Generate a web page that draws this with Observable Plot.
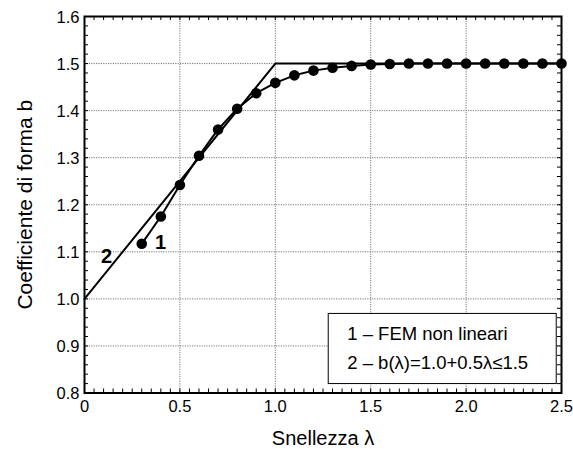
<!DOCTYPE html>
<html>
<head>
<meta charset="utf-8">
<script src="https://cdn.jsdelivr.net/npm/d3@7"></script>
<script src="https://cdn.jsdelivr.net/npm/@observablehq/plot@0.6"></script>
<style>
  html, body { margin: 0; padding: 0; background: #fff; }
  svg { display: block; }
</style>
</head>
<body>
<div id="chart"></div>
<script>
// Series 1: FEM non lineari
const femLambda = [0.3, 0.4, 0.5, 0.6, 0.7, 0.8, 0.9, 1.0, 1.1, 1.2, 1.3, 1.4, 1.5, 1.6, 1.7, 1.8, 1.9, 2.0, 2.1, 2.2, 2.3, 2.4, 2.5];
const femB = [1.117, 1.175, 1.242, 1.304, 1.360, 1.404, 1.437, 1.459, 1.475, 1.485, 1.491, 1.495, 1.498, 1.499, 1.5, 1.5, 1.5, 1.5, 1.5, 1.5, 1.5, 1.5, 1.5];
// Series 2: b(λ)=1.0+0.5λ≤1.5
const codeLambda = [0, 1.0, 2.5];
const codeB = [1.0, 1.5, 1.5];

const xTicks = [0, 0.5, 1.0, 1.5, 2.0, 2.5];
const yTicks = [0.8, 0.9, 1.0, 1.1, 1.2, 1.3, 1.4, 1.5, 1.6];
const xMinor = d3.range(0, 2.5001, 0.05).map(v => +v.toFixed(2));
const yMinor = d3.range(0.8, 1.6001, 0.02).map(v => +v.toFixed(2));

const legendLines = ["1 – FEM non lineari", "2 – b(λ)=1.0+0.5λ≤1.5"];
const legendY = [0.925, 0.8645];
const legendX = [1.377];
const legendBox = [{x1: 1.28, x2: 2.475, y1: 0.819, y2: 0.968}];
const curveLabels = [{t: "1", x: 0.398, y: 1.119}, {t: "2", x: 0.116, y: 1.090}];

const fem = femLambda.map((x, i) => ({x, y: femB[i]}));
const code = codeLambda.map((x, i) => ({x, y: codeB[i]}));

const W = 573, H = 449;
const mL = 84, mT = 16, mR = 12, mB = 56.5;
const pw = W - mL - mR, ph = H - mT - mB;
const tickLen = 4;

const chart = Plot.plot({
  width: W,
  height: H,
  marginLeft: mL,
  marginTop: mT,
  marginRight: mR,
  marginBottom: mB,
  style: {fontFamily: "Arial, 'Liberation Sans', sans-serif", background: "#fff", color: "#000", fontSize: "16px"},
  x: {domain: [0, 2.5], axis: null},
  y: {domain: [0.8, 1.6], axis: null},
  marks: [
    // grid
    Plot.ruleX(xTicks.slice(1, -1), {stroke: "#777", strokeWidth: 1, strokeDasharray: "1.2,1.2"}),
    Plot.ruleY(yTicks.slice(1, -1), {stroke: "#777", strokeWidth: 1, strokeDasharray: "1.2,1.2"}),
    // minor ticks (inward, all four sides)
    Plot.tickX(xMinor, {x: d => d, insetTop: ph - tickLen, stroke: "#000", strokeWidth: 1}),
    Plot.tickX(xMinor, {x: d => d, insetBottom: ph - tickLen, stroke: "#000", strokeWidth: 1}),
    Plot.tickY(yMinor, {y: d => d, insetRight: pw - tickLen, stroke: "#000", strokeWidth: 1}),
    Plot.tickY(yMinor, {y: d => d, insetLeft: pw - tickLen, stroke: "#000", strokeWidth: 1}),
    // tick labels
    Plot.text(xTicks, {x: d => d, frameAnchor: "bottom", lineAnchor: "middle", textAnchor: "middle", dy: 14,
      text: d => d === 0 ? "0" : d.toFixed(1), fontSize: 16.5, fill: "#000"}),
    Plot.text(yTicks, {y: d => d, frameAnchor: "left", lineAnchor: "middle", textAnchor: "end", dx: -5, dy: 1,
      text: d => d.toFixed(1), fontSize: 16.5, fill: "#000"}),
    // axis titles
    Plot.text(["Snellezza λ"], {frameAnchor: "bottom", lineAnchor: "middle", textAnchor: "middle", dy: 46, text: d => d, fontSize: 20, fill: "#000"}),
    Plot.text(["Coefficiente di forma b"], {frameAnchor: "left", lineAnchor: "middle", textAnchor: "middle", dx: -59, rotate: -90, text: d => d, fontSize: 21, fill: "#000"}),
    // series 2
    Plot.line(code, {x: "x", y: "y", stroke: "#000", strokeWidth: 2}),
    // series 1
    Plot.line(fem, {x: "x", y: "y", stroke: "#000", strokeWidth: 2}),
    Plot.dot(fem, {x: "x", y: "y", r: 5.3, fill: "#000", stroke: "none"}),
    // curve labels
    Plot.text(curveLabels, {x: "x", y: "y", text: "t", fontSize: 20, fontWeight: "bold", fill: "#000"}),
    // legend
    Plot.rect(legendBox, {x1: "x1", x2: "x2", y1: "y1", y2: "y2", fill: "#fff", stroke: "#000", strokeWidth: 1}),
    Plot.text(legendLines, {x: () => legendX[0], y: (d, i) => legendY[i], text: d => d, textAnchor: "start", fontSize: 18.5, fill: "#000"}),
    Plot.frame({stroke: "#000", strokeWidth: 2})
  ]
});

document.getElementById("chart").appendChild(chart);
</script>
</body>
</html>
